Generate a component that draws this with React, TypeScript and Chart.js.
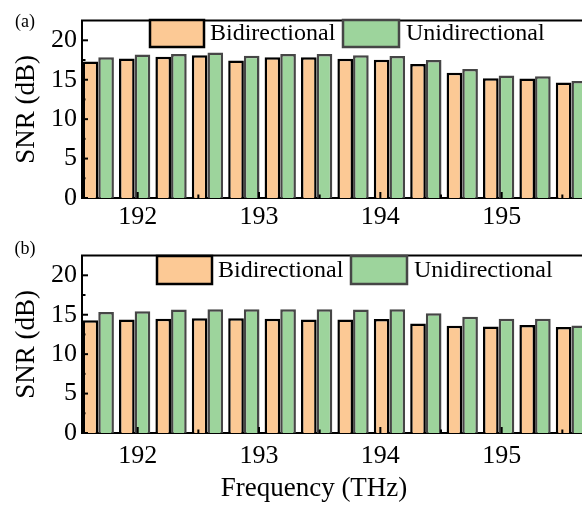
import React, { useEffect, useRef } from "react";
import { Chart, registerables } from "chart.js";

Chart.register(...registerables);

// ---------- data ----------
const FREQ = [191.675, 191.975, 192.275, 192.575, 192.875, 193.175, 193.475, 193.775, 194.075, 194.375, 194.675, 194.975, 195.275, 195.575];
const BIDI_A = [17.3, 17.7, 17.9, 18.1, 17.45, 17.85, 17.85, 17.65, 17.55, 17.0, 15.9, 15.2, 15.15, 14.65];
const UNI_A = [17.85, 18.2, 18.25, 18.45, 18.05, 18.25, 18.25, 18.1, 18.0, 17.5, 16.35, 15.55, 15.45, 14.85];
const BIDI_B = [14.3, 14.4, 14.5, 14.55, 14.55, 14.5, 14.4, 14.4, 14.45, 13.9, 13.6, 13.5, 13.7, 13.45];
const UNI_B = [15.35, 15.45, 15.65, 15.7, 15.7, 15.7, 15.7, 15.65, 15.7, 15.2, 14.75, 14.5, 14.5, 13.65];
const X_TICKS = [192, 193, 194, 195];
const Y_TICKS = [0, 5, 10, 15, 20];
const SERIES_NAMES = ["Bidirectional", "Unidirectional"];
const X_MIN = 191.541;
const X_MAX = 195.662;
const Y_MAX = 22.5;

const ORANGE = "#FCC995";
const GREEN = "#9DD49C";
const GREEN_EDGE = "#464646";
const FONT_FAMILY = "'Liberation Serif', 'Times New Roman', serif";

type PanelCfg = {
  label: string;
  labelY: number;
  topPad: number;
  xHeight: number;
  xPad: number;
  legend: { bx: number[]; bw: number[]; tx: number[]; by: number; bh: number };
  xTitle?: { x: number; y: number };
};

function makeDecor(cfg: PanelCfg) {
  return {
    id: "decor" + cfg.label,
    afterDraw(chart: any) {
      const { ctx, chartArea } = chart;
      const xs = chart.scales.x;
      const ys = chart.scales.y;
      ctx.save();
      ctx.strokeStyle = "#000";
      ctx.lineWidth = 2;
      // top frame line
      ctx.beginPath();
      ctx.moveTo(chartArea.left - 1, chartArea.top);
      ctx.lineTo(chartArea.right + 2, chartArea.top);
      ctx.stroke();
      // inward ticks x
      const b = chartArea.bottom;
      X_TICKS.forEach((v) => {
        const p = xs.getPixelForValue(v);
        ctx.beginPath();
        ctx.moveTo(p, b);
        ctx.lineTo(p, b - 6);
        ctx.stroke();
        const m = xs.getPixelForValue(v + 0.5);
        if (m < chartArea.right) {
          ctx.beginPath();
          ctx.moveTo(m, b);
          ctx.lineTo(m, b - 3.5);
          ctx.stroke();
        }
      });
      // inward ticks y
      const l = chartArea.left;
      Y_TICKS.forEach((v) => {
        const p = ys.getPixelForValue(v);
        ctx.beginPath();
        ctx.moveTo(l, p);
        ctx.lineTo(l + 6, p);
        ctx.stroke();
        const m = ys.getPixelForValue(v + 2.5);
        if (m > chartArea.top + 1) {
          ctx.beginPath();
          ctx.moveTo(l, m);
          ctx.lineTo(l + 3.5, m);
          ctx.stroke();
        }
      });
      // panel label
      ctx.fillStyle = "#000";
      ctx.font = `18px ${FONT_FAMILY}`;
      ctx.textAlign = "center";
      ctx.textBaseline = "middle";
      ctx.fillText(cfg.label, 25, cfg.labelY);
      // legend
      const lg = cfg.legend;
      const fills = [ORANGE, GREEN];
      const edges = ["#000", GREEN_EDGE];
      ctx.font = `24px ${FONT_FAMILY}`;
      ctx.textAlign = "left";
      for (let i = 0; i < 2; i++) {
        ctx.fillStyle = fills[i];
        ctx.fillRect(lg.bx[i], lg.by, lg.bw[i], lg.bh);
        ctx.strokeStyle = edges[i];
        ctx.lineWidth = 2.5;
        ctx.strokeRect(lg.bx[i], lg.by, lg.bw[i], lg.bh);
        ctx.fillStyle = "#000";
        ctx.fillText(SERIES_NAMES[i], lg.tx[i], lg.by + lg.bh / 2 + 0.5);
      }
      if (cfg.xTitle) {
        ctx.font = `27px ${FONT_FAMILY}`;
        ctx.textAlign = "center";
        ctx.fillText("Frequency (THz)", cfg.xTitle.x, cfg.xTitle.y);
      }
      ctx.restore();
    },
  };
}

function makeConfig(bidi: number[], uni: number[], cfg: PanelCfg): any {
  const tickFont = { family: FONT_FAMILY, size: 26 };
  const titleFont = { family: FONT_FAMILY, size: 27 };
  return {
    type: "bar",
    data: {
      datasets: [
        {
          label: SERIES_NAMES[0],
          data: FREQ.map((x, i) => ({ x, y: bidi[i] })),
          backgroundColor: ORANGE,
          borderColor: "#000",
          borderWidth: 2.5,
          categoryPercentage: 0.86,
          barPercentage: 1,
        },
        {
          label: SERIES_NAMES[1],
          data: FREQ.map((x, i) => ({ x, y: uni[i] })),
          backgroundColor: GREEN,
          borderColor: GREEN_EDGE,
          borderWidth: 2.5,
          categoryPercentage: 0.86,
          barPercentage: 1,
        },
      ],
    },
    options: {
      animation: false,
      responsive: false,
      maintainAspectRatio: false,
      devicePixelRatio: 1,
      layout: { padding: { top: cfg.topPad, left: 0, right: 0, bottom: 0 } },
      scales: {
        x: {
          type: "linear",
          min: X_MIN,
          max: X_MAX,
          offset: false,
          grid: { display: false, drawTicks: false, offset: false },
          border: { display: true, color: "#000", width: 2 },
          ticks: {
            padding: cfg.xPad,
            font: tickFont,
            color: "#000",
            autoSkip: false,
            maxRotation: 0,
            callback: (v: any) => String(v),
          },
          afterBuildTicks: (s: any) => {
            s.ticks = X_TICKS.map((v) => ({ value: v }));
          },
          afterFit: (s: any) => {
            s.height = cfg.xHeight;
          },
        },
        y: {
          type: "linear",
          min: 0,
          max: Y_MAX,
          grid: { display: false, drawTicks: false },
          border: { display: true, color: "#000", width: 2 },
          ticks: { padding: 5, font: tickFont, color: "#000", callback: (v: any) => String(v) },
          afterBuildTicks: (s: any) => {
            s.ticks = Y_TICKS.map((v) => ({ value: v }));
          },
          afterFit: (s: any) => {
            s.width = 82;
          },
          title: {
            display: true,
            text: "SNR (dB)",
            font: titleFont,
            color: "#000",
            padding: { top: 11, bottom: 0 },
          },
        },
      },
      plugins: { legend: { display: false }, tooltip: { enabled: false } },
    },
    plugins: [makeDecor(cfg)],
  };
}

// top canvas: y 0..235, bottom canvas: y 235..507
const CFG_A: PanelCfg = {
  label: "(a)",
  labelY: 22,
  topPad: 16,
  xHeight: 37,
  xPad: 3.5,
  legend: { bx: [150, 343], bw: [54, 56], tx: [210, 406], by: 20, bh: 27 },
};

const CFG_B: PanelCfg = {
  label: "(b)",
  labelY: 14.5,
  topPad: 16,
  xHeight: 74,
  xPad: 8,
  legend: { bx: [157, 351], bw: [55, 56], tx: [218, 414], by: 21, bh: 28 },
  xTitle: { x: 314, y: 254 },
};

export default function App() {
  const refA = useRef<HTMLCanvasElement>(null);
  const refB = useRef<HTMLCanvasElement>(null);
  useEffect(() => {
    const a = new Chart(refA.current as HTMLCanvasElement, makeConfig(BIDI_A, UNI_A, CFG_A));
    const b = new Chart(refB.current as HTMLCanvasElement, makeConfig(BIDI_B, UNI_B, CFG_B));
    return () => {
      a.destroy();
      b.destroy();
    };
  }, []);
  return (
    <div
      style={{
        position: "fixed",
        left: 0,
        top: 0,
        width: 582,
        height: 507,
        background: "#fff",
        overflow: "hidden",
      }}
    >
      <canvas
        ref={refA}
        width={582}
        height={235}
        style={{ position: "absolute", left: 0, top: 0, width: 582, height: 235 }}
      />
      <canvas
        ref={refB}
        width={582}
        height={272}
        style={{ position: "absolute", left: 0, top: 235, width: 582, height: 272 }}
      />
    </div>
  );
}
